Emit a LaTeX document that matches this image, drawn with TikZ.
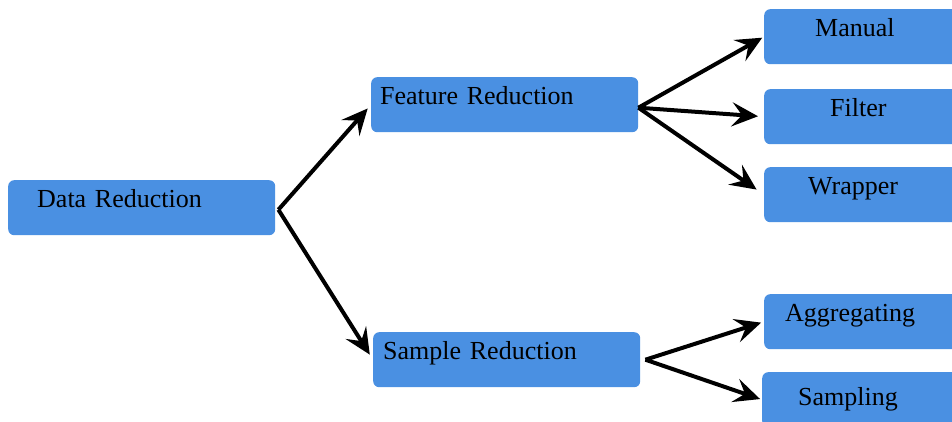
\documentclass[tikz,border=0pt]{standalone}
\usepackage{fontspec}
\setmainfont{Liberation Serif}
\usetikzlibrary{arrows.meta}
\definecolor{cbox}{RGB}{74,144,226}
\tikzset{redux/.style={x=1pt,y=-1pt},
  box/.style={fill=cbox,rounded corners=6pt,anchor=north west,align=left,
    inner ysep=4pt,text height=23pt,text depth=24pt,font=\fontsize{26}{30}\selectfont},
  arr/.style={line width=4pt,-{Stealth[length=26pt,width=24pt,inset=10pt]}}}

\begin{document}
\begin{tikzpicture}[redux]
    \clip (0,0) rectangle (952,422);
    % left column
    \node[box,inner xsep=29pt,text width=209pt] (data) at (8,180) {Data Reduction};
    \node[box,inner xsep=9pt,text width=249pt] (feat) at (371,77) {Feature Reduction};
    \node[box,inner xsep=10pt,text width=247pt] (sample) at (373,332) {Sample Reduction};
    % right column, cut at the border
    \node[box,inner xsep=51pt,text width=106pt] (manual) at (764,9) {Manual};
    \node[box,inner xsep=66pt,text width=76pt] (filter) at (764,89) {Filter};
    \node[box,inner xsep=44pt,text width=120pt] (wrapper) at (764,167) {Wrapper};
    \node[box,inner xsep=21pt,text width=166pt] (aggr) at (764,294) {Aggregating};
    \node[box,inner xsep=36pt,text width=136pt,text height=29pt,text depth=18pt] (sampling) at (762,372) {Sampling};
    % forks
    \coordinate (dfork) at ([xshift=3pt,yshift=-2pt]data.east);
    \coordinate (ffork) at ([yshift=-3pt]feat.east);
    \coordinate (sfork) at ([xshift=5pt]sample.east);
    \draw[arr,shorten >=5pt] (dfork) -- (feat.west);
    \draw[arr,shorten >=6pt] (dfork) -- (sample.west);
    \draw[arr,shorten >=2pt] (ffork) -- (manual.west);
    \draw[arr,shorten >=6pt] (ffork) -- (filter.west);
    \draw[arr,shorten >=9pt] (ffork) -- (wrapper.west);
    \draw[arr,shorten >=3pt] (sfork) -- (aggr.west);
    \draw[arr,shorten >=2pt] (sfork) -- (sampling.west);
\end{tikzpicture}
\end{document}
